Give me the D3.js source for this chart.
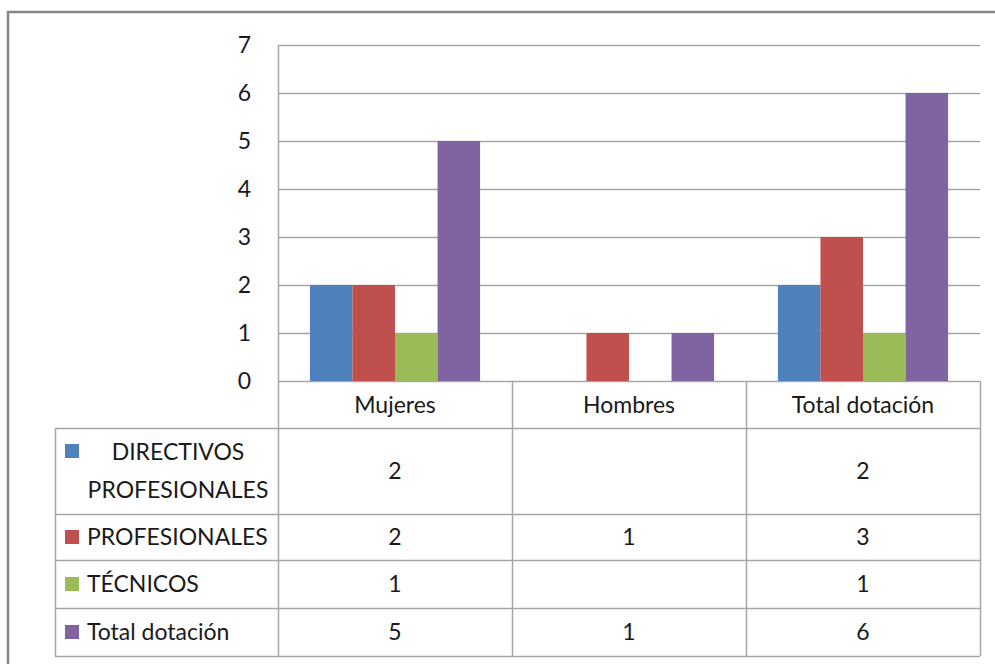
<!DOCTYPE html>
<html>
<head>
<meta charset="utf-8">
<script src="https://cdn.jsdelivr.net/npm/d3@7"></script>
<style>
  body { margin: 0; background: #fff; }
  svg text { font-family: Lato, "Liberation Sans Narrow", sans-serif; fill: #1a1a1a; }
</style>
</head>
<body>
<svg id="chart" width="995" height="664"></svg>
<script>
// categories along x
var categories = ["Mujeres", "Hombres", "Total dotación"];
// series names (legend rows of the data table)
var seriesNames = ["DIRECTIVOS PROFESIONALES", "PROFESIONALES", "TÉCNICOS", "Total dotación"];
// values per series, null = empty cell
var directivos = [2, null, 2];
var profesionales = [2, 1, 3];
var tecnicos = [1, null, 1];
var totalDotacion = [5, 1, 6];
var yTicks = [0, 1, 2, 3, 4, 5, 6, 7];
var colors = ["#4F81BD", "#C0504D", "#9BBB59", "#8064A2"];

var seriesValues = [directivos, profesionales, tecnicos, totalDotacion];

var svg = d3.select("#chart");
var gridColor = "#a6a6a6";
var fontSize = 23;

// outer frame (only top and left visible)
svg.append("path")
  .attr("d", "M8,664 V12 H995")
  .attr("fill", "none")
  .attr("stroke", "#868686")
  .attr("stroke-width", 2.5);

var plotLeft = 278, plotRight = 980, plotTop = 45, plotBottom = 381;

var x0 = d3.scaleBand().domain(categories).range([plotLeft, plotRight]).padding(0);
var x1 = d3.scaleBand().domain(d3.range(seriesNames.length))
  .range([0, x0.bandwidth()]).paddingInner(0).paddingOuter(0.75);
var y = d3.scaleLinear().domain([0, 7]).range([plotBottom, plotTop]);

// gridlines
svg.append("g")
  .selectAll("line")
  .data(yTicks)
  .enter()
  .append("line")
  .attr("x1", plotLeft).attr("x2", plotRight)
  .attr("y1", function (d) { return y(d) + 0.5; })
  .attr("y2", function (d) { return y(d) + 0.5; })
  .attr("stroke", gridColor)
  .attr("stroke-width", 1.5);

// y axis line
svg.append("line")
  .attr("x1", plotLeft + 0.5).attr("x2", plotLeft + 0.5)
  .attr("y1", plotTop).attr("y2", plotBottom)
  .attr("stroke", gridColor)
  .attr("stroke-width", 1.5);

// y tick labels
svg.append("g")
  .selectAll("text")
  .data(yTicks)
  .enter()
  .append("text")
  .attr("x", 251)
  .attr("y", function (d) { return y(d); })
  .attr("dy", "0.35em")
  .attr("text-anchor", "end")
  .attr("font-size", fontSize)
  .text(function (d) { return d; });

// bars
var groups = svg.append("g")
  .selectAll("g")
  .data(categories)
  .enter()
  .append("g")
  .attr("transform", function (d) { return "translate(" + x0(d) + ",0)"; });

groups.selectAll("rect")
  .data(function (d, ci) {
    return seriesValues.map(function (vals, si) { return { s: si, v: vals[ci] }; })
      .filter(function (e) { return e.v != null; });
  })
  .enter()
  .append("rect")
  .attr("x", function (d) { return x1(d.s); })
  .attr("width", x1.bandwidth())
  .attr("y", function (d) { return y(d.v); })
  .attr("height", function (d) { return y(0) - y(d.v); })
  .attr("fill", function (d) { return colors[d.s]; });

// data table
var tableLeft = 55;
var headerBottom = 428;
var rowEdges = [428, 514, 560, 608, 656];

var tbl = svg.append("g").attr("stroke", gridColor).attr("stroke-width", 1.5);
// header vertical lines
categories.concat([null]).forEach(function (c) {
  var xx = c == null ? plotRight : x0(c);
  tbl.append("line")
    .attr("x1", xx + 0.5).attr("x2", xx + 0.5)
    .attr("y1", plotBottom).attr("y2", rowEdges[rowEdges.length - 1]);
});
tbl.append("line")
  .attr("x1", tableLeft + 0.5).attr("x2", tableLeft + 0.5)
  .attr("y1", headerBottom).attr("y2", rowEdges[rowEdges.length - 1]);
rowEdges.forEach(function (ry) {
  tbl.append("line")
    .attr("x1", tableLeft).attr("x2", plotRight)
    .attr("y1", ry + 0.5).attr("y2", ry + 0.5);
});

// header labels
svg.append("g")
  .selectAll("text")
  .data(categories)
  .enter()
  .append("text")
  .attr("x", function (d) { return x0(d) + x0.bandwidth() / 2; })
  .attr("y", (plotBottom + headerBottom) / 2)
  .attr("dy", "0.35em")
  .attr("text-anchor", "middle")
  .attr("font-size", fontSize)
  .text(function (d) { return d; });

// row legend keys and labels
seriesNames.forEach(function (name, si) {
  var r0 = rowEdges[si], r1 = rowEdges[si + 1];
  var mid = (r0 + r1) / 2;
  if (si === 0) {
    svg.append("rect")
      .attr("x", 65).attr("y", 444).attr("width", 14).attr("height", 14)
      .attr("fill", colors[si]);
    svg.append("text").attr("x", 178).attr("y", mid - 19).attr("dy", "0.35em")
      .attr("text-anchor", "middle").attr("font-size", fontSize).text("DIRECTIVOS");
    svg.append("text").attr("x", 178).attr("y", mid + 19).attr("dy", "0.35em")
      .attr("text-anchor", "middle").attr("font-size", fontSize).text("PROFESIONALES");
  } else {
    svg.append("rect")
      .attr("x", 65).attr("y", mid - 7).attr("width", 14).attr("height", 14)
      .attr("fill", colors[si]);
    svg.append("text").attr("x", 87).attr("y", mid).attr("dy", "0.35em")
      .attr("font-size", fontSize).text(name);
  }
  // value cells
  seriesValues[si].forEach(function (v, ci) {
    if (v == null) return;
    svg.append("text")
      .attr("x", x0(categories[ci]) + x0.bandwidth() / 2)
      .attr("y", mid)
      .attr("dy", "0.35em")
      .attr("text-anchor", "middle")
      .attr("font-size", fontSize)
      .text(v);
  });
});
</script>
</body>
</html>
